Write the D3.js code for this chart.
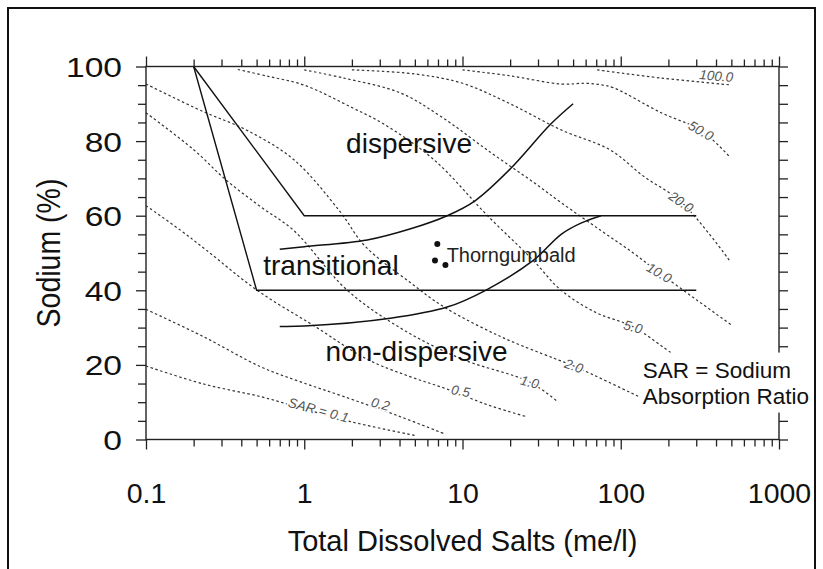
<!DOCTYPE html>
<html>
<head>
<meta charset="utf-8">
<script src="https://cdnjs.cloudflare.com/ajax/libs/d3/7.8.5/d3.min.js"></script>
<style>
  body { margin: 0; background: #fff; }
  svg { display: block; font-family: "Liberation Sans", Arial, sans-serif; }
</style>
</head>
<body>
<div id="chart"></div>
<script>
// tick values
const xMajor = [0.1, 1, 10, 100, 1000];
const yMajor = [0, 20, 40, 60, 80, 100];

// solid class boundaries: [TDS (me/l), sodium %]
const dispersiveEdge = [[0.2, 100], [1, 60], [300, 60]];
const transitionalEdge = [[0.2, 100], [0.5, 40], [300, 40]];
const upperCurve = [[0.7, 51], [1, 51.7], [2.5, 53.5], [4.7, 56.5], [8, 60], [12, 64], [20, 72.5], [36, 84.5], [50, 90]];
const lowerCurve = [[0.7, 30.3], [1, 30.4], [3.5, 32.5], [8, 35.5], [14, 40], [28, 48], [42, 55], [56, 58], [75, 60]];

// SAR isolines
const sar01 = [[0.1, 19.7], [0.23, 14.9], [0.53, 11.5], [0.86, 9.0], [1.96, 4.8], [5.0, 1.1]];
const sar02 = [[0.1, 34.9], [0.23, 27.6], [0.53, 19.5], [0.94, 15.5], [1.78, 11.5], [4.06, 6.1], [7.8, 1.4]];
const sar05 = [[0.1, 62.7], [0.164, 56.2], [0.24, 50.8], [0.5, 40.1], [1.17, 30.3], [2.5, 21.5], [4.7, 16.8], [8.0, 13.5], [14.4, 9.3], [25, 6.2]];
const sar1 = [[0.1, 87.6], [0.2, 77.7], [0.32, 69.6], [0.53, 62.4], [0.86, 56], [1.86, 40.1], [4.2, 29.5], [10, 21.5], [26.6, 15.4], [40, 10.1]];
const sar2 = [[0.1, 95.3], [0.23, 87.9], [0.43, 83], [0.86, 75], [1.69, 61], [2.4, 52], [4.7, 42], [7.6, 35.6], [17.4, 27.6], [37.7, 21.8], [50.6, 19.7], [130, 11.5]];
const sar5 = [[0.38, 99.2], [0.6, 97.3], [1.0, 95], [2.0, 89], [3.2, 84.5], [6.6, 75], [14.4, 60], [28, 48], [42, 40], [70, 34], [120, 30.2], [218, 22.7], [260, 21]];
const sar10 = [[1.0, 99.1], [1.78, 96.9], [4.06, 92.9], [7.3, 86.6], [15, 77], [28, 69], [42, 63.5], [75, 56], [120, 50], [175, 44.7], [300, 37.5], [500, 30.7]];
const sar20 = [[2.0, 99.1], [5, 98], [10, 95.5], [20, 90], [42, 83], [86, 77.6], [140, 70.5], [241, 63.7], [485, 48.1]];
const sar50 = [[10, 99.1], [20, 97.5], [42, 95.3], [60, 95.5], [75, 95.1], [90, 94.3], [180, 87.6], [323, 82.8], [485, 75.9]];
const sar100 = [[71, 99.1], [180, 96.9], [485, 95.1]];
const sarLines = [sar01, sar02, sar05, sar1, sar2, sar5, sar10, sar20, sar50, sar100];

// isoline labels: text, TDS, sodium %, angle
const sarLabels = [
  ['SAR = 0.1', 1.23, 7.9, 15], ['0.2', 3.03, 9.5, 15], ['0.5', 9.74, 13.0, 10],
  ['1.0', 26.6, 15.4, 15], ['2.0', 50.6, 19.7, 20], ['5.0', 119.7, 30.2, 15],
  ['10.0', 175, 44.7, 30], ['20.0', 241, 63.7, 35], ['50.0', 322, 82.8, 30],
  ['100.0', 401, 97.5, 5]
];

// Thorngumbald samples
const samples = [[6.93, 52.4], [6.7, 48.0], [7.8, 46.8]];

const regionLabels = [['dispersive', 4.6, 76.9], ['transitional', 1.474, 44.1], ['non-dispersive', 5.13, 21.0]];

const W = 823, H = 569;

const svg = d3.select('#chart').append('svg')
  .attr('width', W)
  .attr('height', H);

// outer frame
svg.append('rect')
  .attr('x', 8).attr('y', 8)
  .attr('width', 807).attr('height', 620)
  .attr('fill', 'none')
  .attr('stroke', '#111')
  .attr('stroke-width', 2);

const x = d3.scaleLog().domain([0.1, 1000]).range([146, 779]);
const y = d3.scaleLinear().domain([0, 100]).range([439.5, 66.5]);

const xMinor = [];
for (let e = -1; e < 3; e++) {
  for (let k = 2; k <= 9; k++) xMinor.push(k * Math.pow(10, e));
}
const yMinor = d3.range(5, 100, 5).filter((v) => v % 20 !== 0);
const yAll = d3.range(0, 101, 5);

const axisColor = '#222';

function styleAxis(g) {
  g.select('.domain').remove();
  g.selectAll('line').attr('stroke', axisColor).attr('stroke-width', 1.3);
}

// bottom axis
svg.append('g')
  .attr('transform', `translate(0, ${y(0)})`)
  .call(d3.axisBottom(x).tickValues(xMinor).tickSize(7).tickFormat(''))
  .call(styleAxis);

const xAxisG = svg.append('g')
  .attr('transform', `translate(0, ${y(0)})`)
  .call(d3.axisBottom(x).tickValues(xMajor).tickSize(10).tickPadding(33)
    .tickFormat((d) => String(d)))
  .call(styleAxis);
xAxisG.selectAll('text')
  .attr('fill', '#111')
  .style('font-size', '28.5px');

// top axis
svg.append('g')
  .attr('transform', `translate(0, ${y(100)})`)
  .call(d3.axisTop(x).tickValues(xMinor).tickSize(7).tickFormat(''))
  .call(styleAxis);
svg.append('g')
  .attr('transform', `translate(0, ${y(100)})`)
  .call(d3.axisTop(x).tickValues(xMajor).tickSize(10).tickFormat(''))
  .call(styleAxis);

// left axis
svg.append('g')
  .attr('transform', `translate(${x(0.1)}, 0)`)
  .call(d3.axisLeft(y).tickValues(yMinor).tickSize(8).tickFormat(''))
  .call(styleAxis);
const yAxisG = svg.append('g')
  .attr('transform', `translate(${x(0.1)}, 0)`)
  .call(d3.axisLeft(y).tickValues(yMajor).tickSize(10).tickPadding(10))
  .call(styleAxis);
yAxisG.selectAll('text')
  .attr('fill', '#111')
  .attr('dy', '0.36em')
  .style('font-size', '28px')
  .attr('transform', 'scale(1.2,1)');

// right axis
svg.append('g')
  .attr('transform', `translate(${x(1000)}, 0)`)
  .call(d3.axisRight(y).tickValues(yAll).tickSize(9).tickFormat(''))
  .call(styleAxis);

// plot frame
svg.append('rect')
  .attr('x', x(0.1)).attr('y', y(100))
  .attr('width', x(1000) - x(0.1))
  .attr('height', y(0) - y(100))
  .attr('fill', 'none')
  .attr('stroke', axisColor)
  .attr('stroke-width', 1.4);

const line = d3.line()
  .x((d) => x(d[0]))
  .y((d) => y(d[1]))
  .curve(d3.curveCatmullRom.alpha(0.5));

// SAR isolines
svg.append('g').selectAll('path')
  .data(sarLines)
  .join('path')
  .attr('d', line)
  .attr('fill', 'none')
  .attr('stroke', '#333')
  .attr('stroke-width', 1.2)
  .attr('stroke-dasharray', '2.5,2.5');

// isoline labels
svg.append('g').selectAll('text')
  .data(sarLabels)
  .join('text')
  .attr('transform', (d) => `translate(${x(d[1])}, ${y(d[2])}) rotate(${d[3]})`)
  .attr('text-anchor', 'middle')
  .attr('dy', '0.35em')
  .style('font-size', '13.5px')
  .style('font-style', 'italic')
  .attr('fill', '#555')
  .attr('stroke', '#fff')
  .attr('stroke-width', 3)
  .attr('paint-order', 'stroke')
  .text((d) => d[0]);

// class boundaries
const straight = d3.line().x((d) => x(d[0])).y((d) => y(d[1]));
svg.append('g').selectAll('path')
  .data([dispersiveEdge, transitionalEdge])
  .join('path')
  .attr('d', straight)
  .attr('fill', 'none')
  .attr('stroke', '#111')
  .attr('stroke-width', 1.4);

svg.append('g').selectAll('path')
  .data([upperCurve, lowerCurve])
  .join('path')
  .attr('d', line)
  .attr('fill', 'none')
  .attr('stroke', '#111')
  .attr('stroke-width', 1.5);

// region labels
svg.append('g').selectAll('text')
  .data(regionLabels)
  .join('text')
  .attr('x', (d) => x(d[1]))
  .attr('y', (d) => y(d[2]))
  .attr('text-anchor', 'middle')
  .style('font-size', '28px')
  .attr('fill', '#111')
  .text((d) => d[0]);

// samples
svg.append('g').selectAll('circle')
  .data(samples)
  .join('circle')
  .attr('cx', (d) => x(d[0]))
  .attr('cy', (d) => y(d[1]))
  .attr('r', 3)
  .attr('fill', '#111');

svg.append('text')
  .attr('x', x(7.94))
  .attr('y', y(47.7))
  .style('font-size', '20px')
  .attr('fill', '#222')
  .text('Thorngumbald');

// SAR note box
const note = svg.append('g');
note.append('rect')
  .attr('x', x(130)).attr('y', y(23.3))
  .attr('width', 174).attr('height', 60)
  .attr('fill', '#fff');
note.append('text')
  .attr('x', x(130) + 4).attr('y', y(16.4))
  .style('font-size', '22.5px')
  .attr('fill', '#111')
  .text('SAR = Sodium');
note.append('text')
  .attr('x', x(130) + 4).attr('y', y(9.4))
  .style('font-size', '22.5px')
  .attr('fill', '#111')
  .text('Absorption Ratio');

// axis titles
svg.append('text')
  .attr('x', (x(0.1) + x(1000)) / 2)
  .attr('y', 551)
  .attr('text-anchor', 'middle')
  .style('font-size', '29px')
  .attr('fill', '#111')
  .text('Total Dissolved Salts (me/l)');

svg.append('text')
  .attr('transform', `translate(60, ${(y(0) + y(100)) / 2}) scale(1.18,1) rotate(-90)`)
  .attr('text-anchor', 'middle')
  .style('font-size', '28.5px')
  .attr('fill', '#111')
  .text('Sodium (%)');
</script>
</body>
</html>
